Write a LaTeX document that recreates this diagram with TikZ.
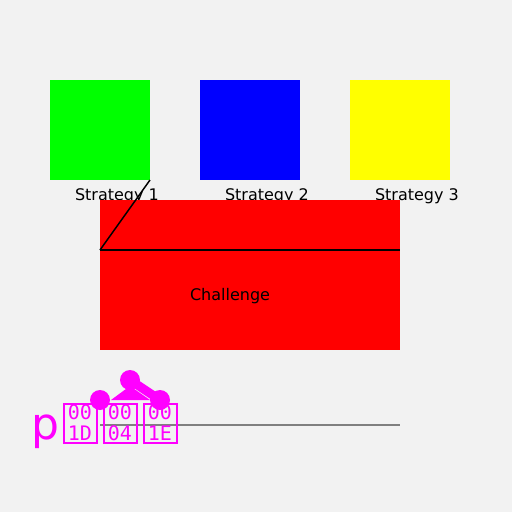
\documentclass[tikz,border=0pt]{standalone}
\usepackage{fontspec}
\setmainfont{DejaVu Sans}
\newfontfamily\hexfont{DejaVu Sans Mono}
\usepackage{xcolor}
\definecolor{bg}{HTML}{F2F2F2}
\definecolor{mag}{HTML}{FF00FF}
\definecolor{rule}{HTML}{808080}
\definecolor{ylw}{HTML}{FFFF00}

\begin{document}
\begin{tikzpicture}[x=1pt, y=-1pt,
        every node/.style={inner sep=0pt, outer sep=0pt},
        sq/.style={draw=none, fill=#1, minimum size=100pt, anchor=north west},
        lbl/.style={anchor=base west, font=\fontsize{16}{19}\selectfont},
        tofu/.style={draw=mag, line width=2pt, minimum width=33pt, minimum height=39pt, text=mag, align=center, font=\hexfont\fontsize{20}{21}\selectfont},
        dot/.style={circle, fill=mag, minimum size=20pt}]
        \fill[bg] (0,0) rectangle (512,512);
        \useasboundingbox (0,0) rectangle (512,512);

        \node[sq={green}] (s1) at (50, 80) {};
        \node[sq={blue}] (s2) at (200, 80) {};
        \node[sq={ylw}] (s3) at (350, 80) {};
        \node[lbl] (l1) at (75, 200) {Strategy 1};
        \node[lbl] (l2) at (225, 200) {Strategy 2};
        \node[lbl] (l3) at (375, 200) {Strategy 3};

        \node[fill=red, minimum width=300pt, minimum height=150pt, anchor=north west] (ch) at (100, 200) {};
        \node[lbl] (cl) at (190, 300) {Challenge};
        \coordinate (cw) at (100, 250);
        \coordinate (ce) at (400, 250);
        \draw[line width=1.5pt] (s1.south east) -- (cw);
        \draw[line width=1.5pt] (cw) -- (ce);

        % bottom glyphs
        \coordinate (gw) at (100, 425);
        \coordinate (ge) at (400, 425);
        \draw[rule, line width=2pt] (gw) -- (ge);
        \node[anchor=base west, text=mag, font=\fontsize{44}{44}\selectfont] (p) at (31, 439) {p};
        \node[tofu] (t1) at (80, 423) {00\\1D};
        \node[tofu] (t2) at (120, 423) {00\\04};
        \node[tofu] (t3) at (160, 423) {00\\1E};

        \node[dot] (a) at (130, 380) {};
        \node[dot] (b) at (100, 400) {};
        \node[dot] (c) at (160, 400) {};
        \draw[mag, line width=9pt] (a.center) -- (c.center);
        \fill[mag] (111, 400) -- (130, 386) -- (150, 400) -- cycle;
    \end{tikzpicture}
\end{document}
